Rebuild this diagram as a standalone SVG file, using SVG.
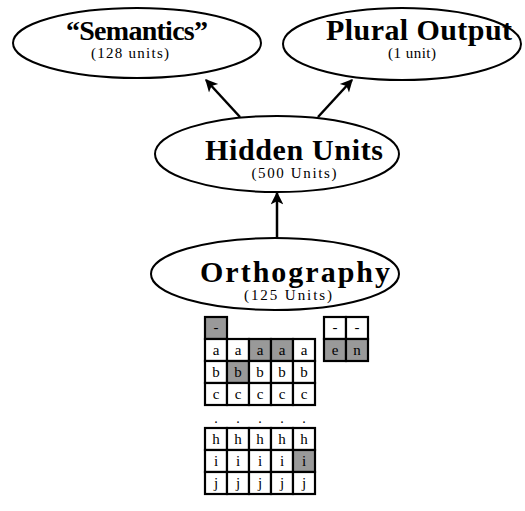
<svg xmlns="http://www.w3.org/2000/svg" width="525" height="511" viewBox="0 0 525 511">
  <defs>
    <marker id="head" viewBox="0 0 10 10" refX="9" refY="5" markerWidth="6" markerHeight="5" orient="auto" markerUnits="strokeWidth">
      <path d="M0,0 L10,5 L0,10 L2.5,5 Z" fill="#000"/>
    </marker>
    <style>
      .node ellipse { fill: #fff; stroke: #000; stroke-width: 2; }
      .title { font-family: "Liberation Serif", "Times New Roman", serif; font-weight: bold; font-size: 30px; text-anchor: middle; fill: #000; }
      .sub { font-family: "Liberation Serif", "Times New Roman", serif; font-size: 15px; text-anchor: middle; fill: #000; }
      .edge { stroke: #000; stroke-width: 2.5; fill: none; marker-end: url(#head); }
      .cell rect { fill: #fff; stroke: #000; stroke-width: 2.2; }
      .cell rect.on { fill: #999; }
      .cell text { font-family: "Liberation Serif", "Times New Roman", serif; font-size: 15px; text-anchor: middle; fill: #000; }
      .dot { font-family: "Liberation Serif", "Times New Roman", serif; font-size: 14px; text-anchor: middle; fill: #000; }
    </style>
  </defs>
  <rect width="525" height="511" fill="#fff"/>

  <!-- nodes -->
  <g id="semantics" class="node">
    <ellipse cx="137" cy="43" rx="124" ry="35"/>
    <text class="title" x="137" y="40" style="font-size:28px" textLength="142" lengthAdjust="spacing">“Semantics”</text>
    <text class="sub" x="130" y="58" textLength="78" lengthAdjust="spacing">(128 units)</text>
  </g>
  <g id="plural-output" class="node">
    <ellipse cx="402" cy="44" rx="119" ry="36"/>
    <text class="title" x="419" y="40" textLength="186" lengthAdjust="spacing">Plural Output</text>
    <text class="sub" x="412" y="58" textLength="48" lengthAdjust="spacing">(1 unit)</text>
  </g>
  <g id="hidden-units" class="node">
    <ellipse cx="277" cy="154" rx="122" ry="38"/>
    <text class="title" x="294" y="160" textLength="178" lengthAdjust="spacing">Hidden Units</text>
    <text class="sub" x="294" y="178" textLength="85" lengthAdjust="spacing">(500 Units)</text>
  </g>
  <g id="orthography" class="node">
    <ellipse cx="275" cy="274" rx="124" ry="36"/>
    <text class="title" x="295" y="282" textLength="190" lengthAdjust="spacing">Orthography</text>
    <text class="sub" x="288" y="300" textLength="88" lengthAdjust="spacing">(125 Units)</text>
  </g>

  <!-- connectors -->
  <g id="connectors">
    <line class="edge" x1="240" y1="117" x2="206" y2="80"/>
    <line class="edge" x1="318" y1="117" x2="352" y2="80"/>
    <line class="edge" x1="277" y1="238" x2="277" y2="193"/>
  </g>

  <!-- letter slots of the orthographic input -->
  <g id="onset-grid" class="cell">
    <rect class="on" x="205" y="317" width="22" height="22"/><text x="216" y="332">-</text>

    <rect x="205" y="339" width="22" height="22"/><text x="216" y="355">a</text>
    <rect x="227" y="339" width="22" height="22"/><text x="238" y="355">a</text>
    <rect class="on" x="249" y="339" width="22" height="22"/><text x="260" y="355">a</text>
    <rect class="on" x="271" y="339" width="22" height="22"/><text x="282" y="355">a</text>
    <rect x="293" y="339" width="22" height="22"/><text x="304" y="355">a</text>

    <rect x="205" y="361" width="22" height="22"/><text x="216" y="377">b</text>
    <rect class="on" x="227" y="361" width="22" height="22"/><text x="238" y="377">b</text>
    <rect x="249" y="361" width="22" height="22"/><text x="260" y="377">b</text>
    <rect x="271" y="361" width="22" height="22"/><text x="282" y="377">b</text>
    <rect x="293" y="361" width="22" height="22"/><text x="304" y="377">b</text>

    <rect x="205" y="383" width="22" height="22"/><text x="216" y="399">c</text>
    <rect x="227" y="383" width="22" height="22"/><text x="238" y="399">c</text>
    <rect x="249" y="383" width="22" height="22"/><text x="260" y="399">c</text>
    <rect x="271" y="383" width="22" height="22"/><text x="282" y="399">c</text>
    <rect x="293" y="383" width="22" height="22"/><text x="304" y="399">c</text>
  </g>

  <g id="ellipsis">
    <text class="dot" x="216" y="423">.</text>
    <text class="dot" x="238" y="423">.</text>
    <text class="dot" x="260" y="423">.</text>
    <text class="dot" x="282" y="423">.</text>
    <text class="dot" x="304" y="423">.</text>
  </g>

  <g id="lower-grid" class="cell">
    <rect x="205" y="428" width="22" height="22"/><text x="216" y="444">h</text>
    <rect x="227" y="428" width="22" height="22"/><text x="238" y="444">h</text>
    <rect x="249" y="428" width="22" height="22"/><text x="260" y="444">h</text>
    <rect x="271" y="428" width="22" height="22"/><text x="282" y="444">h</text>
    <rect x="293" y="428" width="22" height="22"/><text x="304" y="444">h</text>

    <rect x="205" y="450" width="22" height="22"/><text x="216" y="466">i</text>
    <rect x="227" y="450" width="22" height="22"/><text x="238" y="466">i</text>
    <rect x="249" y="450" width="22" height="22"/><text x="260" y="466">i</text>
    <rect x="271" y="450" width="22" height="22"/><text x="282" y="466">i</text>
    <rect class="on" x="293" y="450" width="22" height="22"/><text x="304" y="466">i</text>

    <rect x="205" y="472" width="22" height="22"/><text x="216" y="488">j</text>
    <rect x="227" y="472" width="22" height="22"/><text x="238" y="488">j</text>
    <rect x="249" y="472" width="22" height="22"/><text x="260" y="488">j</text>
    <rect x="271" y="472" width="22" height="22"/><text x="282" y="488">j</text>
    <rect x="293" y="472" width="22" height="22"/><text x="304" y="488">j</text>
  </g>

  <g id="suffix-grid" class="cell">
    <rect x="324" y="317" width="22" height="22"/><text x="335" y="332">-</text>
    <rect x="346" y="317" width="22" height="22"/><text x="357" y="332">-</text>
    <rect class="on" x="324" y="339" width="22" height="22"/><text x="335" y="355">e</text>
    <rect class="on" x="346" y="339" width="22" height="22"/><text x="357" y="355">n</text>
  </g>
</svg>
